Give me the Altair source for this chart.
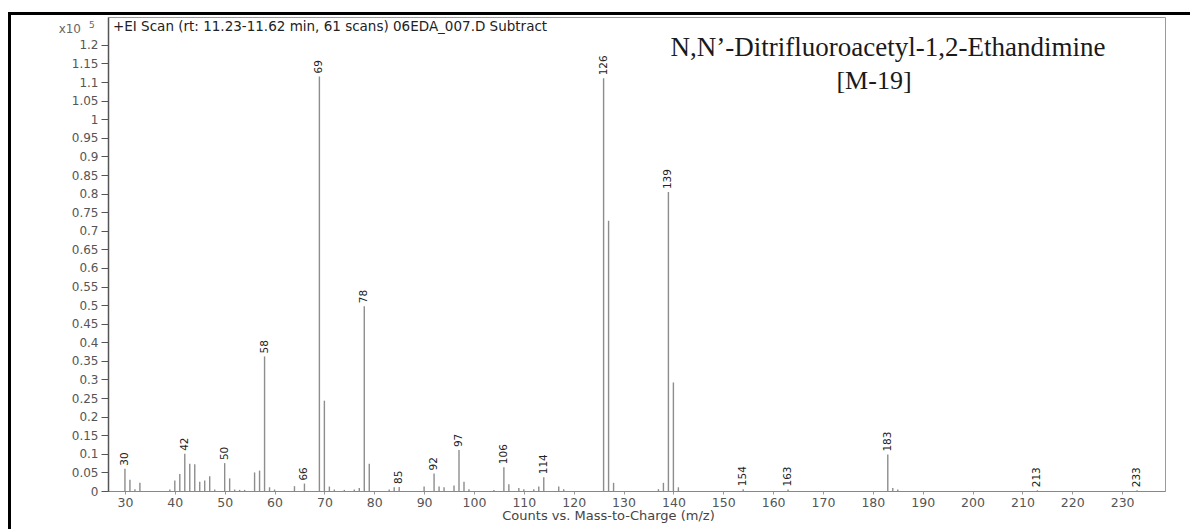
import altair as alt
import pandas as pd

# ---- data (intensity in units of 10^5 counts) ----
mz = [30, 31, 32, 33, 39, 40, 41, 42, 43, 44, 45, 46, 47, 48, 50, 51, 52, 53, 54,
      56, 57, 58, 59, 60, 64, 66, 69, 70, 71, 72, 74, 76, 77, 78, 79, 83, 84, 85,
      90, 92, 93, 94, 96, 97, 98, 99, 104, 106, 107, 109, 110, 112, 113, 114, 117,
      118, 126, 127, 128, 137, 138, 139, 140, 141, 154, 163, 183, 184, 185, 213, 233]
intensity = [0.060, 0.030, 0.005, 0.022, 0.004, 0.028, 0.046, 0.100, 0.073, 0.072,
             0.025, 0.028, 0.040, 0.004, 0.075, 0.034, 0.004, 0.003, 0.003,
             0.050, 0.055, 0.362, 0.010, 0.004, 0.013, 0.020, 1.115, 0.243, 0.012,
             0.004, 0.003, 0.004, 0.008, 0.497, 0.073, 0.004, 0.010, 0.011,
             0.012, 0.047, 0.012, 0.010, 0.015, 0.110, 0.025, 0.005, 0.003, 0.064,
             0.018, 0.008, 0.005, 0.005, 0.012, 0.037, 0.012, 0.005, 1.110, 0.727,
             0.022, 0.005, 0.022, 0.804, 0.292, 0.010, 0.005, 0.004, 0.098, 0.008,
             0.004, 0.002, 0.002]
label_mz = [30, 42, 50, 58, 66, 69, 78, 85, 92, 97, 106, 114, 126, 139, 154, 163, 183, 213, 233]

x_ticks = [30, 40, 50, 60, 70, 80, 90, 100, 110, 120, 130, 140, 150, 160, 170, 180,
           190, 200, 210, 220, 230]
y_ticks = [0.0, 0.05, 0.1, 0.15, 0.2, 0.25, 0.3, 0.35, 0.4, 0.45, 0.5, 0.55, 0.6, 0.65,
           0.7, 0.75, 0.8, 0.85, 0.9, 0.95, 1.0, 1.05, 1.1, 1.15, 1.2]

scan_header = "+EI Scan (rt: 11.23-11.62 min, 61 scans) 06EDA_007.D  Subtract"
compound = "N,N\u2019-Ditrifluoroacetyl-1,2-Ethandimine"
ion_note = "[M-19]"
x_title = "Counts vs. Mass-to-Charge (m/z)"

peaks = pd.DataFrame({"mz": mz, "intensity": intensity})
lookup = dict(zip(mz, intensity))
labels = pd.DataFrame({"mz": label_mz,
                       "intensity": [lookup[m] for m in label_mz],
                       "text": [str(m) for m in label_mz]})

W, H = 1057, 474
x_scale = alt.Scale(domain=[26.6, 238.6], nice=False, zero=False)
y_scale = alt.Scale(domain=[0, 1.275], nice=False)

FONT = "DejaVu Sans"

x_axis = alt.Axis(values=x_ticks, title=x_title, grid=False,
                  labelFont=FONT, labelFontSize=12.5, labelColor="#555",
                  tickSize=3, tickColor="#999", domainColor="#888",
                  labelPadding=2, labelOverlap=False,
                  titleFont=FONT, titleFontSize=13,
                  titleFontWeight="normal", titleColor="#444",
                  titleX=500, titleY=24, titleAlign="center",
                  titleBaseline="middle")
y_axis = alt.Axis(values=y_ticks, title=None, grid=False, format=".2~f",
                  labelFont=FONT, labelFontSize=12, labelColor="#555",
                  labelOverlap=False, labelBound=False,
                  tickSize=7, tickColor="#555", tickWidth=1,
                  domainColor="#555", domainWidth=1.5, labelPadding=3)

sticks = alt.Chart(peaks).mark_rule(color="#8d8d8d", strokeWidth=1.4).encode(
    x=alt.X("mz:Q", scale=x_scale, axis=x_axis),
    y=alt.Y("intensity:Q", scale=y_scale, axis=y_axis),
    y2=alt.datum(0),
)

peak_text = alt.Chart(labels).mark_text(
    angle=270, align="left", baseline="middle", dx=3,
    font=FONT, fontSize=10.5, color="#222"
).encode(x=alt.X("mz:Q", scale=x_scale, axis=x_axis),
         y=alt.Y("intensity:Q", scale=y_scale, axis=y_axis),
         text="text:N")

one = pd.DataFrame({"k": [0]})
header = alt.Chart(one).mark_text(align="left", baseline="middle", font=FONT,
                                  fontSize=13.5, color="#222").encode(
    x=alt.value(5), y=alt.value(10), text=alt.value(scan_header))
x10 = alt.Chart(one).mark_text(align="right", baseline="middle", font=FONT,
                               fontSize=12, color="#666").encode(
    x=alt.value(-27), y=alt.value(12), text=alt.value("x10"))
exp5 = alt.Chart(one).mark_text(align="left", baseline="middle", font=FONT,
                                fontSize=9, color="#666").encode(
    x=alt.value(-19), y=alt.value(8), text=alt.value("5"))
name = alt.Chart(one).mark_text(align="center", baseline="middle",
                                font="Liberation Serif", fontSize=27,
                                color="#1a1a1a").encode(
    x=alt.value(780), y=alt.value(31), text=alt.value(compound))
note = alt.Chart(one).mark_text(align="center", baseline="middle",
                                font="Liberation Serif", fontSize=26,
                                color="#1a1a1a").encode(
    x=alt.value(766), y=alt.value(64), text=alt.value(ion_note))

top_border = alt.Chart(one).mark_rect(color="black").encode(
    x=alt.value(-100), x2=alt.value(1090), y=alt.value(-5), y2=alt.value(-2))
left_border = alt.Chart(one).mark_rule(color="black", strokeWidth=3).encode(
    x=alt.value(-98.5), x2=alt.value(-98.5), y=alt.value(-5), y2=alt.value(515))

chart = alt.layer(sticks, peak_text, header, x10, exp5, name, note,
                  top_border, left_border).properties(
    width=W, height=H,
    padding={"left": 108, "top": 17, "right": 25, "bottom": 38},
    autosize=alt.AutoSizeParams(type="none"),
    background="white",
).configure_view(stroke="#9a9a9a", strokeWidth=1
).configure_axisY(labelOverlap=False)

chart.save("out.html", embed_options={"renderer": "svg", "actions": False})
